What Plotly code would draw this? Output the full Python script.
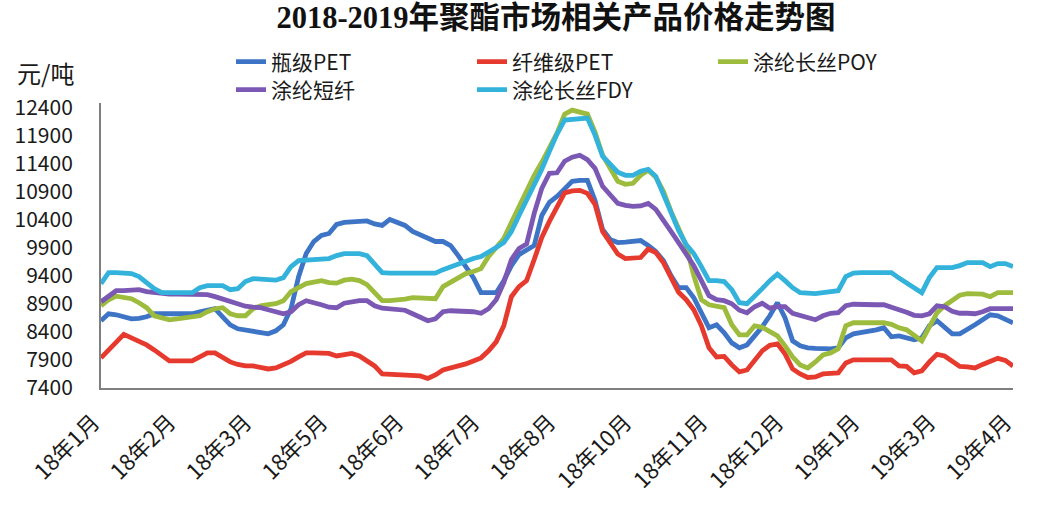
import plotly.graph_objects as go

# ---------------- data ----------------
tick_labels = ["18年1月", "18年2月", "18年3月", "18年5月", "18年6月", "18年7月", "18年8月",
               "18年10月", "18年11月", "18年12月", "19年1月", "19年3月", "19年4月"]

bottle_pet = [8601, 8726, 8708, 8672, 8636, 8645, 8672, 8726, 8726, 8726, 8726, 8726, 8726, 8762, 8798,
              8816, 8672, 8529, 8457, 8430, 8404, 8386, 8368, 8421, 8529, 8816, 9389, 9801, 10016, 10124,
              10160, 10321, 10357, 10366, 10375, 10384, 10330, 10303, 10410, 10357, 10303, 10196, 10142, 10088, 10016,
              10016, 9944, 9765, 9568, 9371, 9102, 9102, 9102, 9317, 9586, 9783, 9855, 9944, 10482, 10715,
              10822, 10966, 11092, 11109, 11109, 10751, 10231, 10052, 9998, 10007, 10016, 10034, 9944, 9837, 9676,
              9407, 9192, 9192, 9013, 8744, 8475, 8529, 8386, 8206, 8117, 8170, 8332, 8493, 8690, 8923,
              8654, 8242, 8153, 8117, 8108, 8099, 8099, 8117, 8296, 8368, 8386, 8404, 8439, 8475, 8314,
              8332, 8296, 8260, 8296, 8511, 8601, 8493, 8368, 8368, 8439, 8529, 8619, 8708, 8690, 8636,
              8565]

fiber_pet = [7938, 8081, 8242, 8359, 8296, 8233, 8170, 8081, 7973, 7884, 7884, 7884, 7884, 7955, 8027,
             8027, 7955, 7866, 7821, 7794, 7794, 7776, 7740, 7758, 7812, 7875, 7955, 8027, 8027, 8027,
             8018, 7973, 7991, 8018, 7973, 7884, 7794, 7651, 7642, 7624, 7615, 7615, 7615, 7570, 7633,
             7722, 7758, 7785, 7830, 7884, 7938, 8063, 8224, 8511, 9031, 9210, 9317, 9694, 10088, 10375,
             10626, 10885, 10921, 10930, 10876, 10679, 10196, 9980, 9792, 9712, 9721, 9730, 9882, 9819, 9640,
             9389, 9111, 8977, 8798, 8511, 8117, 7955, 7964, 7812, 7687, 7722, 7902, 8063, 8162, 8188,
             8009, 7740, 7651, 7588, 7597, 7651, 7660, 7669, 7848, 7902, 7902, 7902, 7902, 7902, 7902,
             7794, 7785, 7669, 7705, 7866, 8000, 7973, 7884, 7785, 7776, 7758, 7821, 7884, 7929, 7893,
             7794]

poy = [8869, 8977, 9040, 9022, 8995, 8923, 8834, 8690, 8645, 8618, 8636, 8654, 8672, 8690, 8762,
       8816, 8834, 8726, 8690, 8690, 8816, 8869, 8887, 8905, 8959, 9120, 9192, 9264, 9291, 9317,
       9282, 9273, 9326, 9344, 9317, 9246, 9102, 8959, 8959, 8968, 8986, 9013, 9013, 9004, 8995,
       9210, 9282, 9362, 9443, 9479, 9532, 9748, 9900, 10070, 10357, 10643, 10930, 11199, 11432, 11683,
       11952, 12292, 12364, 12328, 12292, 11969, 11557, 11324, 11092, 11038, 11056, 11199, 11289, 11163, 10912,
       10554, 10231, 9944, 9407, 8977, 8887, 8869, 8834, 8529, 8350, 8350, 8511, 8484, 8404, 8332,
       8153, 7955, 7812, 7758, 7866, 7991, 8027, 8099, 8511, 8565, 8565, 8565, 8565, 8565, 8538,
       8475, 8439, 8350, 8242, 8493, 8744, 8869, 8959, 9058, 9084, 9084, 9076, 9031, 9102, 9102,
       9102]

staple = [8941, 9049, 9138, 9138, 9156, 9156, 9120, 9102, 9084, 9075, 9075, 9075, 9075, 9075, 9067,
          9031, 8986, 8941, 8887, 8860, 8843, 8834, 8798, 8762, 8726, 8762, 8887, 8959, 8932, 8887,
          8843, 8834, 8914, 8941, 8959, 8959, 8869, 8825, 8816, 8807, 8789, 8726, 8654, 8601, 8636,
          8762, 8780, 8780, 8780, 8762, 8735, 8816, 8977, 9282, 9694, 9891, 9971, 10518, 10966, 11235,
          11244, 11450, 11522, 11557, 11477, 11324, 11002, 10840, 10697, 10661, 10643, 10652, 10697, 10589, 10410,
          10196, 9998, 9801, 9586, 9317, 9049, 8977, 8959, 8905, 8789, 8744, 8852, 8914, 8825, 8852,
          8852, 8735, 8690, 8654, 8618, 8690, 8735, 8744, 8869, 8896, 8887, 8887, 8887, 8887, 8852,
          8798, 8753, 8699, 8690, 8726, 8869, 8852, 8771, 8735, 8735, 8726, 8762, 8816, 8816, 8816,
          8816]

fdy = [9264, 9461, 9461, 9452, 9443, 9389, 9282, 9174, 9102, 9102, 9102, 9102, 9102, 9192, 9228,
       9228, 9228, 9156, 9174, 9300, 9353, 9344, 9335, 9326, 9371, 9568, 9676, 9685, 9694, 9703,
       9712, 9765, 9801, 9801, 9801, 9765, 9622, 9461, 9452, 9452, 9452, 9452, 9452, 9452, 9452,
       9514, 9568, 9622, 9676, 9712, 9748, 9819, 9909, 9998, 10196, 10482, 10751, 11020, 11306, 11629,
       11934, 12185, 12203, 12212, 12221, 11916, 11540, 11396, 11253, 11199, 11199, 11271, 11306, 11181, 10858,
       10536, 10214, 9962, 9801, 9568, 9317, 9317, 9300, 9156, 8923, 8905, 9031, 9174, 9317, 9434,
       9317, 9192, 9102, 9093, 9084, 9102, 9120, 9138, 9389, 9452, 9461, 9461, 9461, 9461, 9461,
       9362, 9282, 9201, 9102, 9371, 9550, 9550, 9550, 9586, 9640, 9640, 9640, 9568, 9622, 9622,
       9568]

series_names = ["瓶级PET", "纤维级PET", "涂纶长丝POY", "涂纶短纤", "涂纶长丝FDY"]
series_values = [bottle_pet, fiber_pet, poy, staple, fdy]
series_colors = ["#3d74c6", "#e63a2e", "#9dbb3c", "#7b58b3", "#33b2db"]
series_legend = ["legend", "legend", "legend", "legend2", "legend2"]

points_per_label = 10
x_index = list(range(len(bottle_pet)))
tick_positions = [i * points_per_label for i in range(len(tick_labels))]

y_ticks = list(range(7400, 12401, 500))

# ---------------- figure ----------------
FONT = "Noto Sans CJK SC, Noto Sans, sans-serif"
W, H = 1040, 516
L, R, T, B = 101, 27, 103, 128

fig = go.Figure()
for name, vals, col, lg in zip(series_names, series_values, series_colors, series_legend):
    fig.add_trace(go.Scatter(
        x=x_index, y=vals, name=name, mode="lines", legend=lg,
        line=dict(color=col, width=4.8, shape="linear"),
    ))

legend_common = dict(
    orientation="h",
    xref="container", xanchor="left",
    yref="container", yanchor="middle",
    entrywidth=196, entrywidthmode="pixels",
    font=dict(family=FONT, size=21, color="#1a1a1a"),
    itemwidth=30, bgcolor="rgba(0,0,0,0)", borderwidth=0,
)

fig.update_layout(
    width=W, height=H,
    paper_bgcolor="white", plot_bgcolor="rgba(0,0,0,0)",
    margin=dict(l=L, r=R, t=T, b=B, autoexpand=False),
    font=dict(family=FONT, size=21, color="#1a1a1a"),
    title=dict(
        text="<b>2018-2019年聚酯市场相关产品价格走势图</b>",
        font=dict(family="Liberation Serif, Noto Sans CJK SC, serif", size=30.5, color="#111111"),
        x=556 / W, xref="container", xanchor="center",
        y=1 - 17 / H, yref="container", yanchor="middle",
    ),
    showlegend=True,
    legend=dict(legend_common, x=231 / W, y=1 - 62 / H),
    legend2=dict(legend_common, x=231 / W, y=1 - 90 / H),
    xaxis=dict(
        range=[0, len(bottle_pet) - 1], automargin=False,
        tickmode="array", tickvals=tick_positions,
        ticktext=[t + "\u2002" for t in tick_labels],
        tickangle=-45, ticks="", ticklabelstandoff=3,
        showline=True, linecolor="#7f7f7f", linewidth=2,
        showgrid=False, zeroline=False,
        tickfont=dict(family=FONT, size=22, color="#1a1a1a"),
    ),
    yaxis=dict(
        range=[7400, 12490], automargin=False,
        tickmode="array", tickvals=y_ticks, tickformat="d",
        ticks="", ticklabelstandoff=22,
        showline=True, linecolor="#7f7f7f", linewidth=2,
        showgrid=False, zeroline=False,
        tickfont=dict(family=FONT, size=21, color="#1a1a1a"),
    ),
)

fig.add_annotation(
    text="元/吨", xref="paper", yref="paper",
    x=(15 - L) / (W - L - R), y=(H - B - 72) / (H - T - B), xanchor="left", yanchor="middle",
    showarrow=False, font=dict(family=FONT, size=24, color="#1a1a1a"),
)

fig.write_html("out.html", config={"displayModeBar": False},
               post_script="document.body.style.margin='0';")
